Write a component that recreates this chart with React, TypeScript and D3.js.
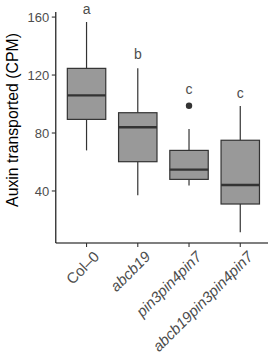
import React, { useEffect, useRef } from 'react';
import * as d3 from 'd3';

const GROUPS = ['Col–0', 'abcb19', 'pin3pin4pin7', 'abcb19pin3pin4pin7'];
const ITALIC = [false, true, true, true];
// five-number summaries
const LOWER = [68, 37, 43.7, 11.5];
const Q1 = [89.4, 60.2, 48, 31];
const MEDIAN = [106, 84, 54.7, 44.1];
const Q3 = [124.6, 94, 68, 75];
const UPPER = [156.6, 124.6, 82.8, 98.6];
const OUTLIERS = [[], [], [98.8], []];
const LETTERS = ['a', 'b', 'c', 'c'];
const LETTER_AT = [162, 131, 107, 104];
const Y_TICKS = [40, 80, 120, 160];

const FONT = "'Liberation Sans', Arial, Helvetica, sans-serif";

export default function App() {
  const ref = useRef<SVGSVGElement>(null);

  useEffect(() => {
    document.body.style.margin = '0';
    const svg = d3.select(ref.current);
    svg.selectAll('*').remove();
    const W = 268, H = 353;
    const m = { t: 12, r: -3, b: 110, l: 55.8 };
    const bottom = H - m.b;

    const x = d3.scalePoint<string>().domain(GROUPS).range([m.l, W - m.r]).padding(0.6);
    const y = d3.scaleLinear().domain([4.1, 163.5]).range([bottom, m.t]);
    const bw = x.step() * 0.75;

    // boxes
    GROUPS.forEach((g, i) => {
      const cx = x(g)!;
      const grp = svg.append('g');
      grp.append('line').attr('x1', cx).attr('x2', cx).attr('y1', y(Q3[i])).attr('y2', y(UPPER[i]))
        .attr('stroke', '#333333').attr('stroke-width', 1.2);
      grp.append('line').attr('x1', cx).attr('x2', cx).attr('y1', y(Q1[i])).attr('y2', y(LOWER[i]))
        .attr('stroke', '#333333').attr('stroke-width', 1.2);
      grp.append('rect').attr('x', cx - bw / 2).attr('width', bw)
        .attr('y', y(Q3[i])).attr('height', y(Q1[i]) - y(Q3[i]))
        .attr('fill', '#999999').attr('stroke', '#333333').attr('stroke-width', 1.2);
      grp.append('line').attr('x1', cx - bw / 2).attr('x2', cx + bw / 2).attr('y1', y(MEDIAN[i])).attr('y2', y(MEDIAN[i]))
        .attr('stroke', '#333333').attr('stroke-width', 2.4);
      OUTLIERS[i].forEach(o => {
        grp.append('circle').attr('cx', cx).attr('cy', y(o)).attr('r', 3.2).attr('fill', '#333333');
      });
      svg.append('text').attr('x', cx).attr('y', y(LETTER_AT[i])).text(LETTERS[i])
        .attr('text-anchor', 'middle').attr('fill', '#4d4d4d').attr('font-size', '14px').attr('font-family', FONT);
    });

    // axes
    svg.append('line').attr('x1', m.l).attr('x2', W).attr('y1', bottom).attr('y2', bottom)
      .attr('stroke', '#000').attr('stroke-width', 1.1);
    svg.append('line').attr('x1', m.l).attr('x2', m.l).attr('y1', m.t).attr('y2', bottom)
      .attr('stroke', '#000').attr('stroke-width', 1.1);

    Y_TICKS.forEach(t => {
      svg.append('line').attr('x1', m.l - 4).attr('x2', m.l).attr('y1', y(t)).attr('y2', y(t))
        .attr('stroke', '#333333').attr('stroke-width', 1.1);
      svg.append('text').attr('x', m.l - 6.5).attr('y', y(t)).attr('dy', '0.36em').text(t)
        .attr('text-anchor', 'end').attr('fill', '#4d4d4d').attr('font-size', '13px').attr('font-family', FONT);
    });

    GROUPS.forEach((g, i) => {
      const cx = x(g)!;
      svg.append('line').attr('x1', cx).attr('x2', cx).attr('y1', bottom).attr('y2', bottom + 4)
        .attr('stroke', '#333333').attr('stroke-width', 1.1);
      svg.append('text').attr('transform', `translate(${cx + 6},${bottom + 7}) rotate(-45)`)
        .attr('dy', '0.72em').text(g)
        .attr('text-anchor', 'end').attr('fill', '#4d4d4d').attr('font-size', '15px')
        .attr('font-style', ITALIC[i] ? 'italic' : 'normal').attr('font-family', FONT);
    });

    svg.append('text').attr('transform', `translate(17.5,120) rotate(-90)`)
      .text('Auxin transported (CPM)')
      .attr('text-anchor', 'middle').attr('fill', '#000').attr('font-size', '15.8px').attr('font-family', FONT);
  }, []);

  return <svg ref={ref} width={268} height={353} style={{ display: 'block' }} />;
}
